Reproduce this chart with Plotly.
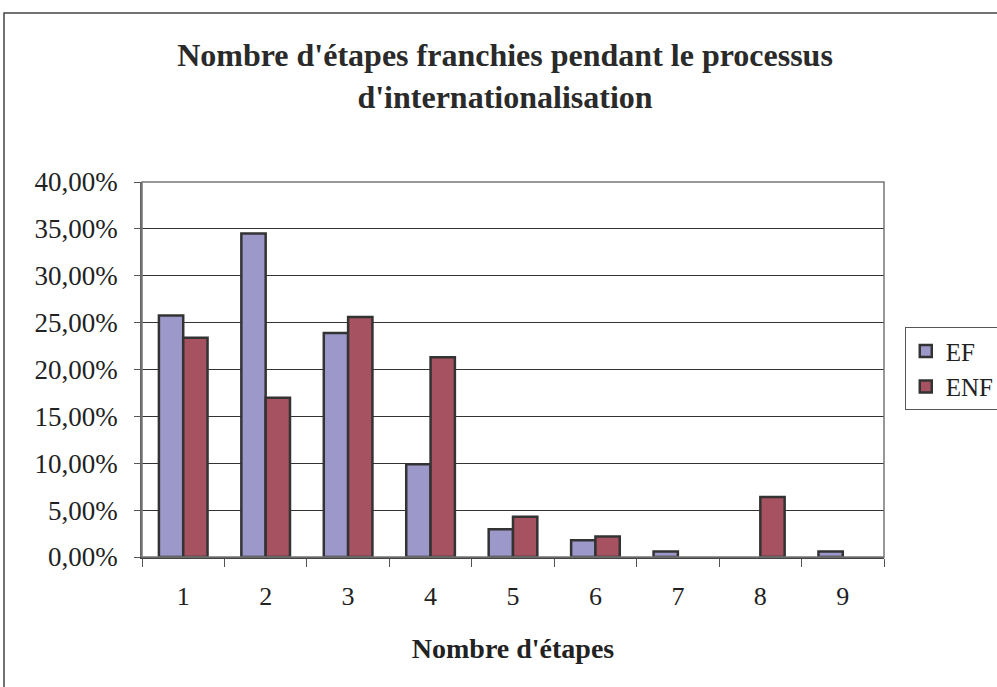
import plotly.graph_objects as go

categories = ["1", "2", "3", "4", "5", "6", "7", "8", "9"]
ef_values = [0.2575, 0.345, 0.239, 0.099, 0.0295, 0.018, 0.006, 0.0, 0.006]
enf_values = [0.234, 0.170, 0.256, 0.213, 0.043, 0.022, 0.0, 0.064, 0.0]
y_ticks = [0, 0.05, 0.10, 0.15, 0.20, 0.25, 0.30, 0.35, 0.40]

FONT = "Liberation Serif, Times New Roman, serif"

def nz(vals):
    return [v if v > 0 else None for v in vals]

fig = go.Figure()
fig.add_trace(go.Bar(x=categories, y=nz(ef_values), name="EF",
                     marker=dict(color="#9D98CA", line=dict(color="#333333", width=2.5))))
fig.add_trace(go.Bar(x=categories, y=nz(enf_values), name="ENF",
                     marker=dict(color="#A65260", line=dict(color="#333333", width=2.5))))

W, H = 997, 687
fig.update_layout(
    width=W, height=H,
    margin=dict(l=142, r=113, t=182, b=130, autoexpand=False),
    paper_bgcolor="white", plot_bgcolor="white",
    separators=", ",
    barmode="group", bargap=0.41, bargroupgap=0,
    font=dict(family=FONT, color="#222222"),
    title=dict(text="<b>Nombre d'étapes franchies pendant le processus<br>d'internationalisation</b>",
               x=505 / W, xanchor="center", xref="container",
               y=1 - 66 / H, yanchor="top", yref="container",
               font=dict(size=32, family=FONT, color="#2a2a2a")),
    legend=dict(x=1.028, y=0.613, xanchor="left", yanchor="top",
                bordercolor="#555555", borderwidth=1, bgcolor="white",
                font=dict(size=25, family=FONT),
                itemwidth=30),
    showlegend=True,
)
fig.update_xaxes(type="category", tickson="boundaries", ticks="outside", ticklen=8,
                 tickcolor="#555555", showline=True, linecolor="#444444", linewidth=1.5,
                 mirror=False, showgrid=False,
                 tickfont=dict(size=26, family=FONT, color="#222222"),
                 ticklabelstandoff=15,
                 title=dict(text="<b>Nombre d'étapes</b>", font=dict(size=28, family=FONT, color="#222222"),
                            standoff=28))
fig.update_yaxes(range=[0, 0.40], tickvals=y_ticks, tickformat=".2%",
                 ticks="outside", ticklen=6, tickcolor="#555555",
                 showline=True, linecolor="#666666", linewidth=1.5,
                 showgrid=True, gridcolor="#333333", gridwidth=1,
                 zeroline=False,
                 tickfont=dict(size=27, family=FONT, color="#222222"),
                 ticklabelstandoff=11)

# plot-area border (top and right)
fig.add_shape(type="rect", xref="paper", yref="paper", x0=0, x1=1, y0=0, y1=1,
              line=dict(color="#777777", width=1.5), fillcolor="rgba(0,0,0,0)", layer="above")
# outer chart border
fig.add_shape(type="rect", xref="paper", yref="paper",
              x0=(4 - 142) / 742, x1=(1005 - 142) / 742,
              y0=(557 - 695) / 375, y1=(557 - 13) / 375,
              line=dict(color="#444444", width=1.5), fillcolor="rgba(0,0,0,0)", layer="below")

fig.write_html(
    "out.html",
    config={"displayModeBar": False},
    post_script="document.body.style.margin='0';document.body.style.overflow='hidden';",
)
